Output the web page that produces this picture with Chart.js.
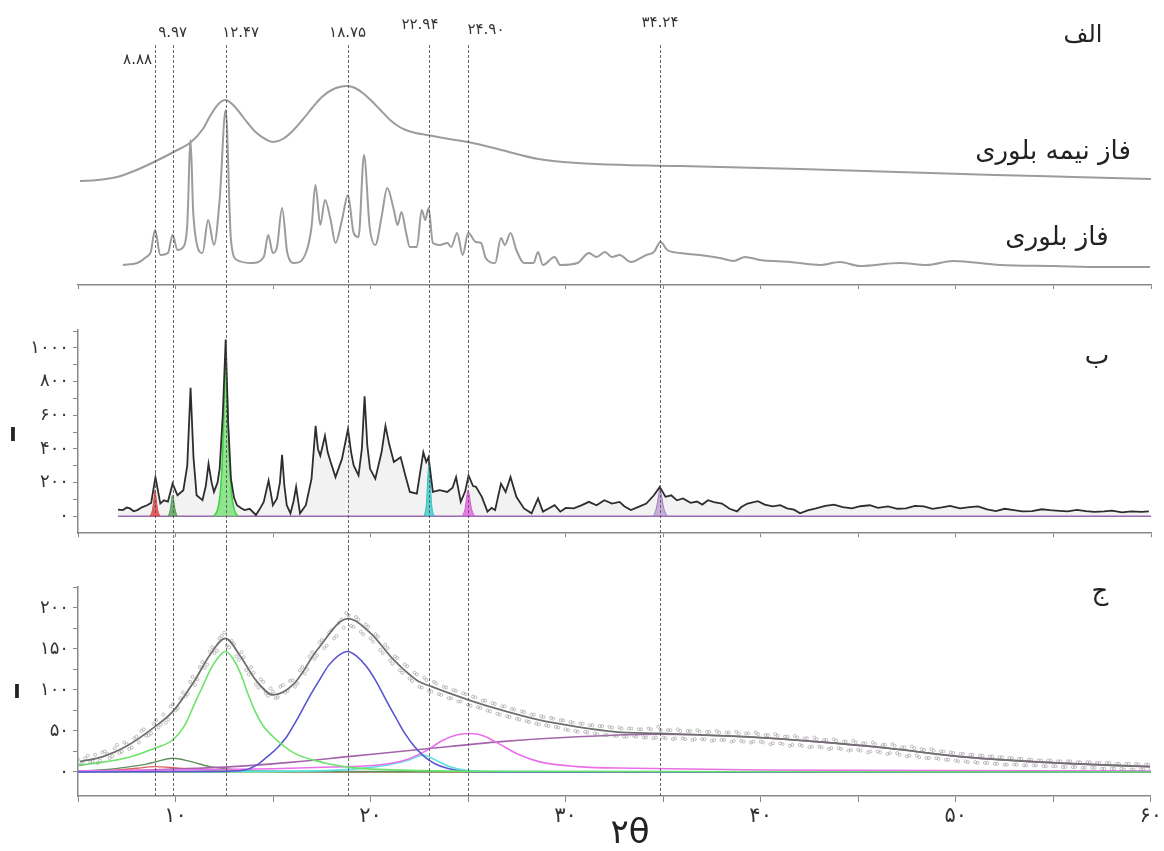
<!DOCTYPE html>
<html><head><meta charset="utf-8">
<script src="https://cdn.jsdelivr.net/npm/chart.js@4"></script>
<style>
html,body{margin:0;padding:0;background:#fff;}
#wrap{position:relative;width:1164px;height:851px;overflow:hidden;background:#fff;}
canvas{position:absolute;left:0;}
</style></head><body>
<div id="wrap">
<canvas id="cA" width="1164" height="300" style="top:0;width:1164px;height:300px"></canvas>
<canvas id="cB" width="1164" height="248" style="top:300px;width:1164px;height:248px"></canvas>
<canvas id="cC" width="1164" height="303" style="top:548px;width:1164px;height:303px"></canvas>
</div>
<script>
// ---------- axis / tick data ----------
const xTickValues = [10, 20, 30, 40, 50, 60];
const xTickLabels = ['۱۰', '۲۰', '۳۰', '۴۰', '۵۰', '۶۰'];
const midTickMarks = [0, 100, 200, 300, 400, 500, 600, 700, 800, 900, 1000, 1100];
const midTickValues = [0, 200, 400, 600, 800, 1000];
const midTickLabels = ['۰', '۲۰۰', '۴۰۰', '۶۰۰', '۸۰۰', '۱۰۰۰'];
const lowTickMarks = [0, 25, 50, 75, 100, 125, 150, 175, 200, 225];
const lowTickValues = [0, 50, 100, 150, 200];
const lowTickLabels = ['۰', '۵۰', '۱۰۰', '۱۵۰', '۲۰۰'];

// dashed marker lines (2θ positions) and their labels
const markerTheta = [8.95, 9.85, 12.57, 18.82, 22.99, 24.99, 34.83];
const markerLabels = ['۸.۸۸', '۹.۹۷', '۱۲.۴۷', '۱۸.۷۵', '۲۲.۹۴', '۲۴.۹۰', '۳۴.۲۴'];

// ---------- panel الف : reference patterns ----------
const semiTheta = [5.1, 6.0, 7.0, 8.0, 9.0, 10.0, 10.8, 11.4, 11.8, 12.2, 12.55, 12.9, 13.3, 13.7, 14.1, 14.6, 15.0, 15.5, 16.0, 16.5, 17.0, 17.5, 18.0, 18.4, 18.8, 19.2, 19.6, 20.0, 20.5, 21.0, 21.4, 21.8, 22.3, 22.9, 24.0, 25.0, 26.7, 28.6, 30.6, 33.0, 35.9, 42.0, 47.0, 52.0, 56.0, 60.0];
const semiI = [104, 105, 108, 115, 124, 134, 143, 156, 170, 181, 185, 181, 172, 162, 153, 146, 143, 146, 154, 165, 177, 188, 195, 198, 199, 197, 192, 185, 175, 165, 159, 155, 152, 150, 146, 143, 135, 126, 122, 120, 119, 116, 113, 110, 108, 106];

const crystTheta = [7.30, 8.04, 8.5, 8.73, 8.95, 9.22, 9.61, 9.85, 10.1, 10.4, 10.6, 10.77, 10.9, 11.08, 11.38, 11.67, 11.97, 12.26, 12.57, 12.84, 13.15, 13.92, 14.52, 14.75, 14.99, 15.2, 15.46, 15.73, 16.09, 16.68, 16.97, 17.17, 17.42, 17.66, 17.95, 18.2, 18.53, 18.84, 19.13, 19.38, 19.66, 19.95, 20.24, 20.56, 20.85, 21.19, 21.38, 21.58, 21.81, 22.01, 22.37, 22.62, 22.8, 22.97, 23.19, 23.54, 23.93, 24.13, 24.43, 24.72, 25.0, 25.4, 25.66, 25.9, 26.38, 26.68, 26.88, 27.17, 27.47, 27.86, 28.35, 28.58, 28.83, 29.43, 29.72, 30.6, 31.19, 31.58, 32.01, 32.37, 32.76, 33.34, 34.13, 34.52, 34.86, 35.21, 35.86, 36.88, 37.9, 38.6, 39.19, 39.96, 41.5, 43.03, 44.06, 45.08, 47.13, 48.5, 49.85, 52.26, 55, 57.5, 59.95];
const crystI = [20, 22, 28, 33, 55, 30, 32, 50, 35, 38, 60, 145, 75, 42, 32, 65, 40, 85, 175, 45, 25, 22, 28, 50, 32, 38, 77, 32, 22, 32, 58, 100, 60, 85, 65, 42, 65, 90, 52, 48, 130, 58, 40, 68, 97, 75, 60, 73, 53, 38, 38, 75, 65, 77, 42, 40, 42, 38, 52, 30, 52, 43, 42, 27, 22, 47, 40, 52, 35, 22, 22, 33, 20, 28, 20, 22, 32, 28, 33, 28, 30, 23, 30, 33, 43, 35, 32, 30, 27, 24, 28, 25, 23, 20, 23, 19, 22, 20, 24, 20, 19, 18, 18];

// ---------- panel ب : crystalline fit ----------
const obsTheta = [7.05, 7.3, 7.5, 7.66, 7.85, 8.04, 8.3, 8.54, 8.75, 8.97, 9.22, 9.4, 9.61, 9.85, 10.1, 10.4, 10.6, 10.77, 10.92, 11.08, 11.38, 11.55, 11.69, 11.85, 11.97, 12.15, 12.26, 12.42, 12.57, 12.7, 12.84, 13.0, 13.15, 13.35, 13.54, 13.8, 14.12, 14.3, 14.52, 14.77, 14.99, 15.2, 15.35, 15.46, 15.58, 15.7, 15.89, 16.05, 16.18, 16.3, 16.38, 16.68, 16.97, 17.18, 17.3, 17.42, 17.66, 17.8, 17.95, 18.2, 18.53, 18.84, 19.0, 19.13, 19.38, 19.55, 19.69, 19.83, 19.97, 20.24, 20.56, 20.76, 20.95, 21.19, 21.54, 21.78, 22.01, 22.37, 22.7, 22.85, 22.97, 23.19, 23.54, 23.93, 24.2, 24.38, 24.62, 24.85, 25.02, 25.25, 25.4, 25.7, 25.99, 26.2, 26.38, 26.68, 26.92, 27.17, 27.47, 27.86, 28.25, 28.58, 28.83, 29.1, 29.43, 29.72, 30.0, 30.41, 30.8, 31.19, 31.58, 31.98, 32.37, 32.76, 33.0, 33.34, 33.7, 34.13, 34.52, 34.82, 35.11, 35.41, 35.7, 36.01, 36.4, 36.73, 37.0, 37.29, 37.6, 38.01, 38.4, 38.78, 39.0, 39.32, 39.85, 40.2, 40.61, 41.0, 41.34, 41.7, 42.01, 42.4, 42.83, 43.3, 43.75, 44.2, 44.67, 45.1, 45.59, 46.0, 46.52, 47.0, 47.44, 47.9, 48.36, 48.8, 49.28, 49.7, 50.21, 50.7, 51.13, 51.6, 52.05, 52.5, 52.98, 53.4, 53.9, 54.4, 54.82, 55.3, 55.74, 56.2, 56.67, 57.1, 57.59, 58.0, 58.51, 59.0, 59.5, 59.89];
const obsI = [40, 37, 52, 47, 30, 37, 55, 66, 80, 233, 76, 95, 88, 194, 125, 155, 300, 763, 350, 125, 96, 180, 312, 200, 145, 200, 282, 600, 1050, 550, 223, 110, 66, 50, 37, 45, 8, 40, 86, 213, 66, 106, 200, 365, 180, 66, 18, 90, 175, 80, 18, 66, 223, 537, 400, 360, 478, 380, 322, 233, 341, 517, 380, 302, 243, 400, 713, 420, 282, 223, 380, 537, 429, 322, 351, 243, 145, 135, 380, 322, 351, 145, 155, 145, 170, 233, 86, 150, 243, 180, 175, 116, 28, 50, 37, 194, 145, 233, 116, 47, 18, 106, 28, 45, 66, 28, 50, 47, 65, 86, 66, 96, 76, 86, 60, 37, 55, 76, 125, 175, 116, 125, 95, 106, 80, 88, 70, 96, 85, 76, 45, 29, 55, 76, 90, 70, 59, 66, 47, 40, 18, 35, 47, 62, 70, 55, 47, 60, 66, 50, 59, 45, 47, 62, 59, 45, 53, 62, 47, 55, 59, 42, 31, 45, 37, 30, 31, 42, 37, 33, 29, 38, 31, 27, 29, 34, 24, 30, 26, 29];

const redPeakTheta = [8.7, 8.82, 8.9, 8.95, 9.0, 9.08, 9.2];
const redPeakI = [0, 40, 110, 155, 110, 40, 0];
const dgPeakTheta = [9.63, 9.73, 9.8, 9.85, 9.9, 9.98, 10.08];
const dgPeakI = [0, 40, 100, 125, 100, 40, 0];
const grPeakTheta = [11.95, 12.15, 12.3, 12.42, 12.51, 12.57, 12.64, 12.74, 12.86, 13.01, 13.2];
const grPeakI = [0, 40, 150, 400, 750, 880, 750, 400, 150, 40, 0];
const cyPeakTheta = [22.75, 22.86, 22.94, 22.99, 23.04, 23.12, 23.24];
const cyPeakI = [0, 80, 250, 320, 250, 80, 0];
const mgPeakTheta = [24.7, 24.85, 24.94, 24.99, 25.05, 25.16, 25.32];
const mgPeakI = [0, 50, 130, 155, 130, 50, 0];
const puPeakTheta = [34.5, 34.65, 34.77, 34.83, 34.9, 35.02, 35.2];
const puPeakI = [0, 50, 130, 165, 130, 50, 0];
const midBaseTheta = [7.05, 60];
const midBaseI = [0, 0];

// ---------- panel ج : semi-crystalline fit ----------
const fitTheta = [5.1, 6.28, 7.46, 8.93, 9.85, 10.99, 11.77, 12.55, 13.34, 14.12, 15.01, 16.09, 17.27, 18.84, 20.01, 21.19, 22.37, 23.14, 25.01, 26.68, 28.63, 30.6, 32.57, 34.86, 39.14, 42.83, 46.52, 50.21, 53.9, 57.59, 59.95];
const fitI = [12.6, 18.7, 31, 55, 73.5, 112, 143, 163, 140.6, 112, 94, 108, 149, 187, 169, 136.6, 112, 104, 88, 75.6, 63.4, 55, 49, 47, 43, 37, 29, 18.7, 12.6, 8.5, 6.5];

// measured points: two interleaved sampling grids (start, step 0.25)
const scatterStartA = 5.0, scatterStartB = 5.125, scatterStep = 0.25;
const scatterA = [15, 10, 20, 13, 11, 24, 22, 19, 33, 25, 34, 30, 43, 50, 44, 47, 63, 58, 60, 80,
  75, 90, 92, 110, 106, 128, 127, 147, 145, 163, 170, 152, 156, 137, 140, 119, 121, 103, 110, 93,
  98, 91, 106, 99, 112, 108, 128, 125, 146, 142, 161, 154, 173, 166, 186, 194, 178, 189, 171, 180,
  163, 168, 149, 155, 136, 141, 124, 131, 114, 121, 104, 115, 99, 110, 95, 104, 90, 100, 86, 96,
  82, 92, 79, 87, 75, 84, 71, 80, 68, 77, 65, 74, 62, 70, 59, 68, 57, 66, 55, 63,
  52, 61, 50, 59, 49, 57, 47, 56, 45, 55, 44, 54, 43, 53, 44, 52, 42, 53, 41, 55,
  42, 51, 40, 52, 41, 50, 39, 51, 40, 49, 38, 50, 39, 48, 37, 49, 38, 47, 36, 48,
  37, 45, 34, 46, 35, 43, 32, 44, 33, 41, 30, 42, 31, 39, 28, 40, 29, 37, 26, 38,
  27, 35, 24, 36, 25, 33, 22, 34, 23, 30, 19, 31, 20, 28, 17, 28, 17, 25, 15, 24,
  14, 22, 13, 21, 12, 20, 11, 19, 10, 18, 9, 17, 9, 16, 8, 15, 8, 14, 7, 14,
  7, 13, 6, 13, 6, 12, 5, 12, 5, 11, 4, 11, 4, 10, 4, 10, 3, 10, 3, 9, 4];
const scatterB = [9, 17, 12, 21, 14, 25, 17, 29, 23, 36, 28, 41, 36, 52, 45, 59, 54, 70, 64, 83,
  78, 97, 95, 116, 113, 134, 131, 152, 148, 166, 154, 160, 141, 146, 124, 128, 107, 113, 96, 102,
  90, 104, 97, 111, 104, 124, 120, 141, 138, 158, 151, 170, 163, 182, 176, 191, 177, 186, 168, 177,
  159, 165, 145, 151, 132, 139, 121, 129, 111, 119, 103, 112, 98, 108, 94, 103, 90, 99, 86, 95,
  81, 91, 78, 87, 74, 83, 70, 80, 67, 76, 64, 73, 61, 70, 58, 67, 56, 65, 54, 63,
  51, 60, 49, 59, 48, 57, 46, 56, 45, 54, 44, 53, 43, 53, 43, 52, 42, 52, 42, 51,
  41, 51, 41, 50, 40, 50, 40, 49, 40, 49, 39, 48, 39, 48, 38, 47, 37, 47, 37, 46,
  36, 45, 35, 44, 34, 43, 33, 42, 32, 41, 31, 40, 30, 39, 29, 38, 28, 37, 27, 36,
  26, 35, 25, 34, 24, 33, 23, 32, 21, 30, 20, 29, 18, 27, 17, 26, 16, 25, 15, 23,
  13, 22, 12, 21, 11, 20, 11, 19, 10, 18, 9, 17, 9, 16, 8, 15, 8, 14, 7, 14,
  7, 13, 6, 13, 6, 12, 5, 12, 5, 11, 4, 11, 4, 10, 3, 10, 3, 9, 3, 9];

const greenCTheta = [5.0, 6.3, 7.46, 8.93, 9.85, 10.5, 10.99, 11.4, 11.77, 12.2, 12.55, 12.9, 13.34, 13.7, 14.12, 14.5, 15.0, 16.09, 17.66, 19.22, 22.73, 28, 60];
const greenCI = [8, 12, 17, 29, 39, 58, 84, 105, 124, 140, 147, 140, 120, 96, 72, 56, 43, 23, 11, 5, 1.6, 0.5, 0];
const blueTheta = [5, 12, 13.54, 14.2, 14.71, 15.2, 15.7, 16.3, 16.87, 17.4, 17.85, 18.35, 18.82, 19.3, 19.81, 20.3, 20.79, 21.3, 21.76, 22.25, 22.76, 23.3, 23.93, 24.91, 27, 60];
const blueI = [0, 0.5, 2.4, 9, 18.7, 29, 43, 67, 92, 113, 130, 142, 147, 141, 128, 110, 88, 66, 47, 31, 18.7, 10, 4.5, 0.5, 0, 0];
const magTheta = [5, 10, 15, 18, 20.4, 21.78, 22.76, 23.74, 24.4, 25.0, 25.5, 25.9, 26.68, 27.66, 28.63, 30.6, 33.55, 40, 60];
const magI = [1.5, 2.5, 4, 6, 8.5, 14.6, 24.8, 39, 45, 47, 46, 43, 33, 20.7, 12.6, 6.5, 4.5, 2.5, 1];
const cyanTheta = [5, 15, 18, 19.8, 21.2, 22.0, 22.7, 23.3, 24.0, 24.9, 27, 60];
const cyanI = [0.5, 1, 2, 5, 10, 15, 20.7, 15, 7, 2, 0.5, 0];
const purpleTheta = [5.1, 8, 12.94, 16, 18.84, 22.76, 26.68, 30.6, 34.86, 39.14, 42.83, 46.52, 50.21, 53.9, 57.5, 59.95];
const purpleI = [0.4, 2, 6.5, 12, 18.7, 28, 37, 43, 46, 43, 37, 29, 18.7, 12.6, 8.5, 6.5];
const dkGreenTheta = [5, 6.5, 7.67, 8.5, 9.02, 9.85, 10.8, 11.77, 12.94, 14.5, 17, 60];
const dkGreenI = [1, 3, 6.5, 9.5, 12.6, 16.7, 12.6, 6.5, 3, 1.2, 0.5, 0];
const redCTheta = [5, 7, 8.0, 8.95, 10, 11, 14, 18, 60];
const redCI = [1, 2.5, 4.5, 6.5, 5, 3, 1, 0.3, 0];
const zeroTheta = [5, 60];
const zeroI = [0, 0];

// ---------- helpers ----------
const FONT = '"DejaVu Sans", sans-serif';
const toPts = (xs, ys) => xs.map((x, i) => ({x: x, y: ys[i]}));
const gridPts = (start, step, ys) => ys.map((v, i) => ({x: start + i * step, y: v}));
function lineDs(xs, ys, color, width, extra) {
  return Object.assign({type: 'line', data: toPts(xs, ys), borderColor: color, borderWidth: width,
    pointRadius: 0, fill: false, cubicInterpolationMode: 'monotone'}, extra || {});
}
function scatterDs(pts) {
  return {type: 'line', showLine: false, data: pts, pointRadius: 1.5, pointBorderWidth: 0.8,
    pointBorderColor: 'rgba(150,150,150,0.75)', pointBackgroundColor: 'rgba(0,0,0,0)'};
}
function markerPlugin(y0, y1) {
  return {id: 'markers', afterDatasetsDraw(chart) {
    const ctx = chart.ctx, xs = chart.scales.x;
    ctx.save();
    ctx.strokeStyle = 'rgba(80,80,80,0.85)'; ctx.lineWidth = 1; ctx.setLineDash([3, 2]);
    markerTheta.forEach(t => {
      const px = Math.round(xs.getPixelForValue(t)) + 0.5;
      ctx.beginPath(); ctx.moveTo(px, y0); ctx.lineTo(px, y1); ctx.stroke();
    });
    ctx.restore();
  }};
}
function textPlugin(items) {
  return {id: 'texts', afterDraw(chart) {
    const ctx = chart.ctx;
    ctx.save();
    items.forEach(it => {
      ctx.font = it.font; ctx.fillStyle = it.color || '#222';
      ctx.textAlign = it.align || 'center'; ctx.textBaseline = 'middle';
      ctx.fillText(it.text, it.x, it.y);
    });
    ctx.restore();
  }};
}
const labelDx = [0, 0, 15, 0, -9, 18, 0];
const labelY = [60, 33, 33, 33, 25, 30, 23];
const markerLabelPlugin = {id: 'markerLabels', afterDraw(chart) {
  const ctx = chart.ctx, xs = chart.scales.x;
  ctx.save(); ctx.font = '15px ' + FONT; ctx.fillStyle = '#333'; ctx.textBaseline = 'middle';
  markerTheta.forEach((t, i) => {
    const px = xs.getPixelForValue(t);
    if (i === 0) { ctx.textAlign = 'right'; ctx.fillText(markerLabels[i], px - 3, labelY[i]); }
    else { ctx.textAlign = 'center'; ctx.fillText(markerLabels[i], px + labelDx[i], labelY[i]); }
  });
  ctx.restore();
}};
const baseOpts = {responsive: false, animation: false, events: [],
  plugins: {legend: {display: false}, tooltip: {enabled: false}}};
function xAxis(extra) {
  return Object.assign({type: 'linear', min: 5, max: 60,
    ticks: {display: false, stepSize: 5},
    grid: {drawOnChartArea: false, tickLength: 4, color: '#888'},
    border: {color: '#888', width: 1.5}}, extra || {});
}

// ---------- chart الف ----------
new Chart(document.getElementById('cA'), {
  type: 'line',
  data: {datasets: [
    lineDs(semiTheta, semiI, '#9c9c9c', 2),
    lineDs(crystTheta, crystI, '#9c9c9c', 2)
  ]},
  options: Object.assign({}, baseOpts, {
    layout: {padding: {left: 78, right: 13, top: 0, bottom: 0}},
    scales: {
      x: xAxis({afterFit(s) { s.height = 15; }}),
      y: {display: false, min: 0, max: 285}
    }
  }),
  plugins: [markerPlugin(45, 300), markerLabelPlugin, textPlugin([
    {text: 'الف', x: 1083, y: 36, font: '24px ' + FONT},
    {text: 'فاز نیمه بلوری', x: 1053, y: 152, font: '26px ' + FONT},
    {text: 'فاز بلوری', x: 1057, y: 238, font: '26px ' + FONT}
  ])]
});

// ---------- chart ب ----------
new Chart(document.getElementById('cB'), {
  type: 'line',
  data: {datasets: [
    lineDs(obsTheta, obsI, '#2e2e2e', 1.8, {cubicInterpolationMode: 'default', tension: 0}),
    lineDs(redPeakTheta, redPeakI, '#d94a4a', 1, {fill: 'origin', backgroundColor: 'rgba(220,70,70,0.85)'}),
    lineDs(dgPeakTheta, dgPeakI, '#4f9a4f', 1, {fill: 'origin', backgroundColor: 'rgba(80,160,80,0.8)'}),
    lineDs(grPeakTheta, grPeakI, '#3fd13f', 1.5, {fill: 'origin', backgroundColor: 'rgba(110,225,110,0.75)'}),
    lineDs(cyPeakTheta, cyPeakI, '#2cc4c4', 1, {fill: 'origin', backgroundColor: 'rgba(60,200,200,0.8)'}),
    lineDs(mgPeakTheta, mgPeakI, '#d653d6', 1, {fill: 'origin', backgroundColor: 'rgba(220,90,220,0.75)'}),
    lineDs(puPeakTheta, puPeakI, '#a07ac0', 1, {fill: 'origin', backgroundColor: 'rgba(170,130,200,0.6)'}),
    lineDs(midBaseTheta, midBaseI, '#9b6bb0', 1.5),
    lineDs(obsTheta, obsI, 'rgba(0,0,0,0)', 0, {cubicInterpolationMode: 'default', tension: 0, fill: 'origin', backgroundColor: 'rgba(195,195,195,0.22)'})
  ]},
  options: Object.assign({}, baseOpts, {
    layout: {padding: {left: 0, right: 13, top: 30, bottom: 0}},
    scales: {
      x: xAxis({afterFit(s) { s.height = 13; }}),
      y: {min: -100, max: 1106,
        afterBuildTicks(s) { s.ticks = midTickMarks.map(v => ({value: v})); },
        ticks: {callback: v => { const i = midTickValues.indexOf(v); return i >= 0 ? midTickLabels[i] : ''; },
          font: {family: FONT, size: 18}, color: '#333', padding: 4, autoSkip: false},
        grid: {drawOnChartArea: false, tickLength: 5, color: '#888'},
        border: {color: '#888', width: 1.5},
        afterFit(s) { s.width = 78; }}
    }
  }),
  plugins: [markerPlugin(0, 248), textPlugin([
    {text: 'ب', x: 1097, y: 57, font: '26px ' + FONT},
    {text: 'I', x: 13, y: 136, font: 'bold 20px ' + FONT}
  ])]
});

// ---------- chart ج ----------
new Chart(document.getElementById('cC'), {
  type: 'line',
  data: {datasets: [
    lineDs(fitTheta, fitI, '#6f6f6f', 1.8),
    scatterDs(gridPts(scatterStartA, scatterStep, scatterA)),
    scatterDs(gridPts(scatterStartB, scatterStep, scatterB)),
    lineDs(greenCTheta, greenCI, '#6be36b', 1.6),
    lineDs(blueTheta, blueI, '#5a55d0', 1.6),
    lineDs(magTheta, magI, '#ea6fea', 1.6),
    lineDs(cyanTheta, cyanI, '#5fe0e0', 1.6),
    lineDs(purpleTheta, purpleI, '#a464ac', 1.6),
    lineDs(dkGreenTheta, dkGreenI, '#5f8f5f', 1.4),
    lineDs(redCTheta, redCI, '#e06060', 1.4),
    lineDs(zeroTheta, zeroI, '#8fd08f', 2.2)
  ]},
  options: Object.assign({}, baseOpts, {
    layout: {padding: {left: 0, right: 13, top: 39, bottom: 0}},
    scales: {
      x: xAxis({
        ticks: {display: true, stepSize: 5, autoSkip: false, maxRotation: 0, padding: 2,
          callback: v => { const i = xTickValues.indexOf(v); return i >= 0 ? xTickLabels[i] : ''; },
          font: {family: FONT, size: 21}, color: '#333'},
        grid: {drawOnChartArea: false, tickLength: 6, color: '#888'},
        afterFit(s) { s.height = 55; }}),
      y: {min: -29.3, max: 225.6,
        afterBuildTicks(s) { s.ticks = lowTickMarks.map(v => ({value: v})); },
        ticks: {callback: v => { const i = lowTickValues.indexOf(v); return i >= 0 ? lowTickLabels[i] : ''; },
          font: {family: FONT, size: 18}, color: '#333', padding: 4, autoSkip: false},
        grid: {drawOnChartArea: false, tickLength: 5, color: '#888'},
        border: {color: '#888', width: 1.5},
        afterFit(s) { s.width = 78; }}
    }
  }),
  plugins: [markerPlugin(0, 248), textPlugin([
    {text: 'ج', x: 1100, y: 44, font: '26px ' + FONT},
    {text: 'I', x: 17, y: 145, font: 'bold 20px ' + FONT},
    {text: '۲θ', x: 630, y: 286, font: '34px ' + FONT}
  ])]
});
</script>
</body></html>
